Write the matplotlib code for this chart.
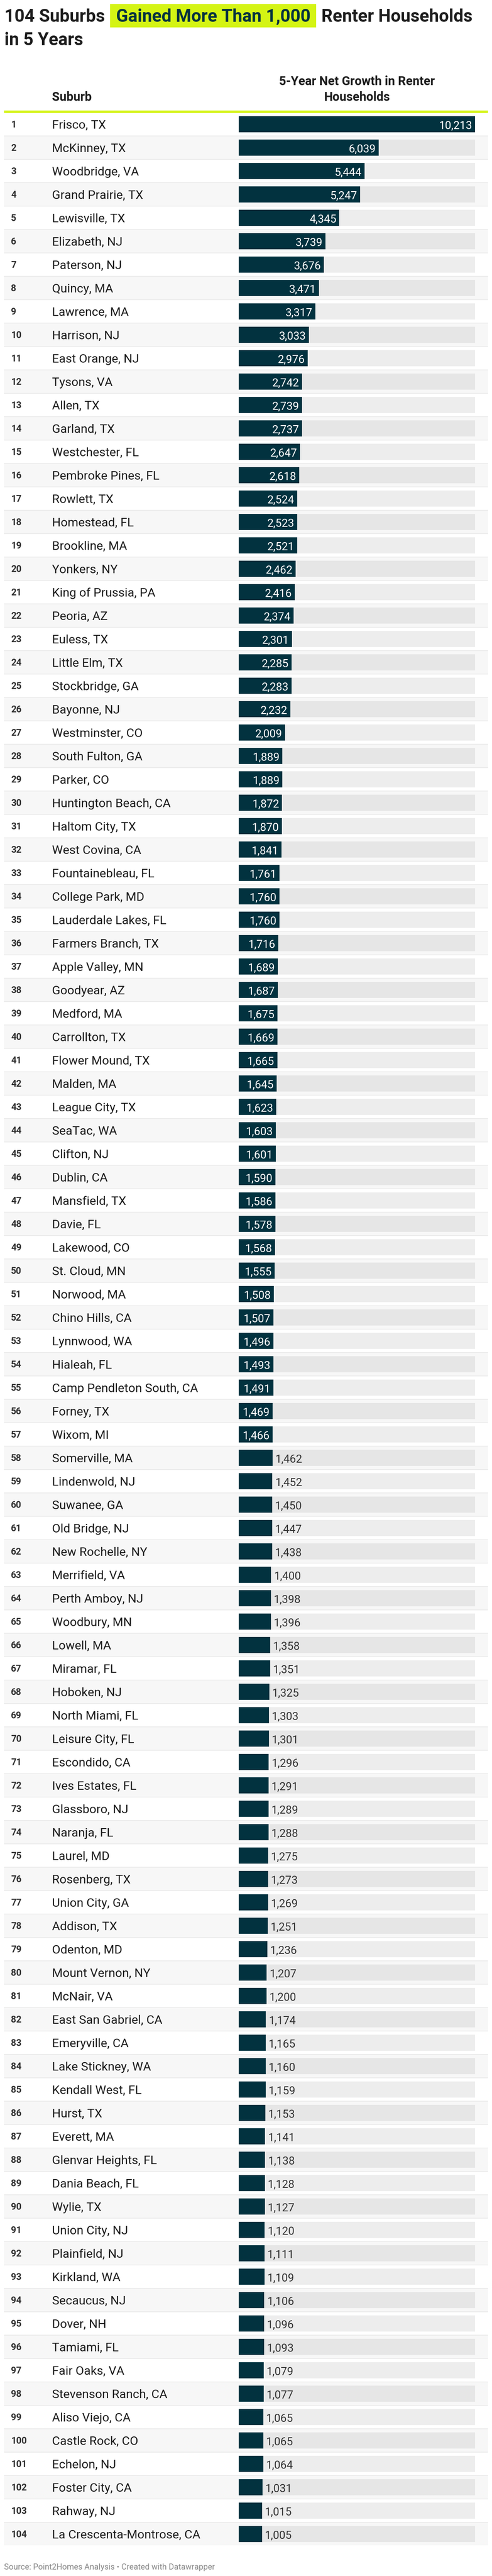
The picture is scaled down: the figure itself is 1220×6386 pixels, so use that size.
import matplotlib
matplotlib.use('Agg')
import matplotlib.pyplot as plt
from matplotlib.patches import Rectangle

# ---------------- data ----------------
ranks = list(range(1, 105))
suburbs = [
    "Frisco, TX", "McKinney, TX", "Woodbridge, VA", "Grand Prairie, TX", "Lewisville, TX",
    "Elizabeth, NJ", "Paterson, NJ", "Quincy, MA", "Lawrence, MA", "Harrison, NJ",
    "East Orange, NJ", "Tysons, VA", "Allen, TX", "Garland, TX", "Westchester, FL",
    "Pembroke Pines, FL", "Rowlett, TX", "Homestead, FL", "Brookline, MA", "Yonkers, NY",
    "King of Prussia, PA", "Peoria, AZ", "Euless, TX", "Little Elm, TX", "Stockbridge, GA",
    "Bayonne, NJ", "Westminster, CO", "South Fulton, GA", "Parker, CO", "Huntington Beach, CA",
    "Haltom City, TX", "West Covina, CA", "Fountainebleau, FL", "College Park, MD", "Lauderdale Lakes, FL",
    "Farmers Branch, TX", "Apple Valley, MN", "Goodyear, AZ", "Medford, MA", "Carrollton, TX",
    "Flower Mound, TX", "Malden, MA", "League City, TX", "SeaTac, WA", "Clifton, NJ",
    "Dublin, CA", "Mansfield, TX", "Davie, FL", "Lakewood, CO", "St. Cloud, MN",
    "Norwood, MA", "Chino Hills, CA", "Lynnwood, WA", "Hialeah, FL", "Camp Pendleton South, CA",
    "Forney, TX", "Wixom, MI", "Somerville, MA", "Lindenwold, NJ", "Suwanee, GA",
    "Old Bridge, NJ", "New Rochelle, NY", "Merrifield, VA", "Perth Amboy, NJ", "Woodbury, MN",
    "Lowell, MA", "Miramar, FL", "Hoboken, NJ", "North Miami, FL", "Leisure City, FL",
    "Escondido, CA", "Ives Estates, FL", "Glassboro, NJ", "Naranja, FL", "Laurel, MD",
    "Rosenberg, TX", "Union City, GA", "Addison, TX", "Odenton, MD", "Mount Vernon, NY",
    "McNair, VA", "East San Gabriel, CA", "Emeryville, CA", "Lake Stickney, WA", "Kendall West, FL",
    "Hurst, TX", "Everett, MA", "Glenvar Heights, FL", "Dania Beach, FL", "Wylie, TX",
    "Union City, NJ", "Plainfield, NJ", "Kirkland, WA", "Secaucus, NJ", "Dover, NH",
    "Tamiami, FL", "Fair Oaks, VA", "Stevenson Ranch, CA", "Aliso Viejo, CA", "Castle Rock, CO",
    "Echelon, NJ", "Foster City, CA", "Rahway, NJ", "La Crescenta-Montrose, CA",
]
growth = [
    10213, 6039, 5444, 5247, 4345, 3739, 3676, 3471, 3317, 3033,
    2976, 2742, 2739, 2737, 2647, 2618, 2524, 2523, 2521, 2462,
    2416, 2374, 2301, 2285, 2283, 2232, 2009, 1889, 1889, 1872,
    1870, 1841, 1761, 1760, 1760, 1716, 1689, 1687, 1675, 1669,
    1665, 1645, 1623, 1603, 1601, 1590, 1586, 1578, 1568, 1555,
    1508, 1507, 1496, 1493, 1491, 1469, 1466, 1462, 1452, 1450,
    1447, 1438, 1400, 1398, 1396, 1358, 1351, 1325, 1303, 1301,
    1296, 1291, 1289, 1288, 1275, 1273, 1269, 1251, 1236, 1207,
    1200, 1174, 1165, 1160, 1159, 1153, 1141, 1138, 1128, 1127,
    1120, 1111, 1109, 1106, 1096, 1093, 1079, 1077, 1065, 1065,
    1064, 1031, 1015, 1005,
]
title_pre = "104 Suburbs"
title_hl = "Gained More Than 1,000"
title_post = "Renter Households"
title_line2 = "in 5 Years"
col_suburb = "Suburb"
col_value = ["5-Year Net Growth in Renter", "Households"]
footer = "Source: Point2Homes Analysis \u2022 Created with Datawrapper"

# ---------------- style ----------------
plt.rcParams['font.family'] = ['Roboto', 'DejaVu Sans']
BAR = '#02323f'
GREEN = '#d4f414'
STRIPE = '#f7f7f7'
SEP = '#ebebeb'
TRACK_W = '#ededed'
TRACK_G = '#e6e6e6'
TXT = '#1d1d1d'
INSIDE_MIN = 1464  # labels of bars at least this long sit inside the bar

W, H, DPI = 1220, 6386, 100
fig = plt.figure(figsize=(W / DPI, H / DPI), dpi=DPI)
fig.patch.set_facecolor('white')

n = len(suburbs)
ROW_TOP, ROW_H = 279, 58
ROWS_BOTTOM = ROW_TOP + ROW_H * n
BAR_X0, BAR_X1 = 592, 1178


def axes_px(x0, x1, y0, y1):
    ax = fig.add_axes([x0 / W, 1 - y1 / H, (x1 - x0) / W, (y1 - y0) / H])
    ax.set_axis_off()
    ax.patch.set_alpha(0)
    return ax


# table axes (rows, ranks, names)
ax_tab = axes_px(0, W, ROW_TOP, ROWS_BOTTOM)
ax_tab.set_xlim(0, W)
ax_tab.set_ylim(n - 0.5, -0.5)

# bar axes
ax_bar = axes_px(BAR_X0, BAR_X1, ROW_TOP, ROWS_BOTTOM)
ax_bar.set_xlim(0, max(growth))
ax_bar.set_ylim(n - 0.5, -0.5)

# overlay axes in pixel coordinates (title, header, footer)
ax_o = axes_px(0, W, 0, H)
ax_o.set_xlim(0, W)
ax_o.set_ylim(H, 0)

ypos = list(range(n))
striped = [i for i in ypos if i % 2 == 1]
ax_tab.barh(striped, [1200] * len(striped), left=10, height=56 / 58,
            color=STRIPE, linewidth=0, zorder=1)
ax_tab.hlines([i + 0.5 for i in ypos[:-1]], 10, 1210, color=SEP,
              linewidth=2 * 72 / DPI, zorder=2)

for i, (r, s) in enumerate(zip(ranks, suburbs)):
    ax_tab.annotate(str(r), (27, i), xytext=(0, -8), textcoords='offset pixels',
                    ha='left', va='baseline', fontsize=16.5, fontweight='bold',
                    color='#333333', zorder=3)
    ax_tab.annotate(s, (129, i), xytext=(0, -11), textcoords='offset pixels',
                    ha='left', va='baseline', fontsize=21.8, color=TXT, zorder=3)

track_colors = [TRACK_G if i % 2 == 1 else TRACK_W for i in ypos]
ax_bar.barh(ypos, [max(growth)] * n, height=40 / 58, color=track_colors,
            linewidth=0, zorder=1)
ax_bar.barh(ypos, growth, height=40 / 58, color=BAR, linewidth=0, zorder=2)

for i, v in enumerate(growth):
    lab = f"{v:,}"
    if v >= INSIDE_MIN:
        ax_bar.annotate(lab, (v, i), xytext=(-7, -11), textcoords='offset pixels',
                        ha='right', va='baseline', fontsize=19.8, color='white', zorder=3)
    else:
        ax_bar.annotate(lab, (v, i), xytext=(7, -11), textcoords='offset pixels',
                        ha='left', va='baseline', fontsize=19.8, color='#333333', zorder=3)

# ---------------- title ----------------
TFS = 31.4
renderer = fig.canvas.get_renderer()
t1 = ax_o.text(11, 54, title_pre, fontsize=TFS, fontweight='bold', color=TXT,
               ha='left', va='baseline')
x_end = t1.get_window_extent(renderer).x1
box_x0 = x_end + 13
t2 = ax_o.text(box_x0 + 15, 54, title_hl, fontsize=TFS, fontweight='bold',
               color=BAR, ha='left', va='baseline', zorder=3)
x_end2 = t2.get_window_extent(renderer).x1
box_x1 = x_end2 + 14
ax_o.add_patch(Rectangle((box_x0, 10), box_x1 - box_x0, 58, color=GREEN,
                         linewidth=0, zorder=2))
ax_o.text(box_x1 + 13, 54, title_post, fontsize=TFS, fontweight='bold', color=TXT,
          ha='left', va='baseline')
ax_o.text(11, 112, title_line2, fontsize=TFS, fontweight='bold', color=TXT,
          ha='left', va='baseline')

# ---------------- header ----------------
ax_o.text(129, 250, col_suburb, fontsize=22, fontweight='bold', color=TXT,
          ha='left', va='baseline')
hx = (BAR_X0 + BAR_X1) / 2
ax_o.text(hx, 211, col_value[0], fontsize=22, fontweight='bold', color=TXT,
          ha='center', va='baseline')
ax_o.text(hx, 250, col_value[1], fontsize=22, fontweight='bold', color=TXT,
          ha='center', va='baseline')
ax_o.add_patch(Rectangle((10, 274), 1200, 6, color=GREEN, linewidth=0))

# ---------------- footer ----------------
ax_o.text(10, 6370, footer, fontsize=14.5, color='#8a8a8a', ha='left', va='baseline')

fig.savefig('out.png', dpi=DPI, facecolor='white')
